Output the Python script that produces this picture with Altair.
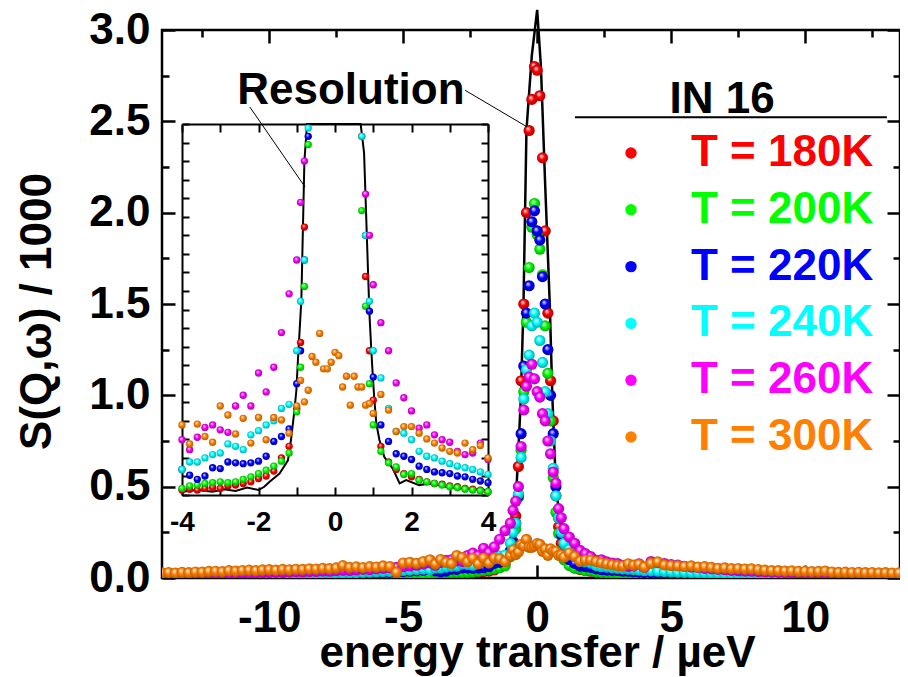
import altair as alt
import pandas as pd

FONT = "Liberation Sans"

# ---------------- energy grid (µeV) ----------------
X_LEFT_WING = [-14.0, -13.75, -13.5, -13.25, -13.0, -12.75, -12.5, -12.25, -12.0, -11.75,
               -11.5, -11.25, -11.0, -10.75, -10.5, -10.25, -10.0, -9.75, -9.5, -9.25,
               -9.0, -8.75, -8.5, -8.25, -8.0, -7.75, -7.5, -7.25, -7.0, -6.75,
               -6.5, -6.25, -6.0, -5.75, -5.5, -5.25, -5.0, -4.75, -4.5, -4.25]
X_INNER = [-4.0, -3.8, -3.6, -3.4, -3.2, -3.0, -2.8, -2.6, -2.4, -2.2, -2.0, -1.8, -1.6, -1.4, -1.2,
           -1.0, -0.9, -0.8, -0.7, -0.6, -0.5, -0.4, -0.3, -0.2, -0.1, 0.0, 0.1, 0.2, 0.3, 0.4, 0.5,
           0.6, 0.7, 0.8, 0.9, 1.0,
           1.2, 1.4, 1.6, 1.8, 2.0, 2.2, 2.4, 2.6, 2.8, 3.0, 3.2, 3.4, 3.6, 3.8, 4.0]
X_RIGHT_WING = [4.25, 4.5, 4.75, 5.0, 5.25, 5.5, 5.75, 6.0, 6.25, 6.5,
                6.75, 7.0, 7.25, 7.5, 7.75, 8.0, 8.25, 8.5, 8.75, 9.0,
                9.25, 9.5, 9.75, 10.0, 10.25, 10.5, 10.75, 11.0, 11.25, 11.5,
                11.75, 12.0, 12.25, 12.5, 12.75, 13.0, 13.25, 13.5, 13.75]

# ---------------- S(Q,w)/1000 per temperature ----------------
S180_LEFT = [0.005, 0.006, 0.006, 0.005, 0.006, 0.006, 0.007, 0.006, 0.007, 0.007,
             0.007, 0.008, 0.008, 0.008, 0.008, 0.009, 0.009, 0.009, 0.010, 0.010,
             0.010, 0.010, 0.011, 0.011, 0.012, 0.012, 0.012, 0.013, 0.013, 0.014,
             0.014, 0.015, 0.015, 0.016, 0.016, 0.017, 0.018, 0.018, 0.019, 0.020]
S180_INNER = [0.021, 0.022, 0.021, 0.023, 0.024, 0.023, 0.026, 0.027, 0.029, 0.031, 0.035, 0.038, 0.044, 0.060, 0.074,
              0.12, 0.20, 0.34, 0.61, 1.08, 1.50, 2.00, 2.45, 2.62, 2.80, 2.78, 2.64, 2.30, 1.90, 1.45, 1.08,
              0.86, 0.45, 0.28, 0.19, 0.13,
              0.074, 0.055, 0.046, 0.041, 0.037, 0.034, 0.031, 0.029, 0.028, 0.026, 0.025, 0.023, 0.022, 0.021, 0.019]
S180_RIGHT = [0.019, 0.018, 0.017, 0.017, 0.016, 0.016, 0.015, 0.015, 0.014, 0.014,
              0.013, 0.013, 0.012, 0.012, 0.012, 0.011, 0.011, 0.011, 0.010, 0.010,
              0.010, 0.009, 0.009, 0.009, 0.009, 0.008, 0.008, 0.008, 0.008, 0.007,
              0.007, 0.007, 0.007, 0.007, 0.006, 0.006, 0.006, 0.006, 0.006]

S200_LEFT = [0.006, 0.006, 0.007, 0.006, 0.007, 0.007, 0.007, 0.008, 0.007, 0.008,
             0.008, 0.008, 0.009, 0.008, 0.009, 0.009, 0.010, 0.009, 0.010, 0.010,
             0.011, 0.011, 0.011, 0.012, 0.012, 0.013, 0.013, 0.014, 0.014, 0.015,
             0.015, 0.016, 0.016, 0.017, 0.018, 0.018, 0.019, 0.020, 0.020, 0.021]
S200_INNER = [0.023, 0.026, 0.027, 0.029, 0.030, 0.031, 0.030, 0.031, 0.034, 0.037, 0.041, 0.045, 0.050, 0.056, 0.066,
              0.116, 0.170, 0.268, 0.44, 0.70, 1.02, 1.40, 1.70, 1.92, 2.05, 1.88, 1.80, 1.66, 1.38, 1.12, 0.86,
              0.55, 0.36, 0.244, 0.15, 0.100,
              0.068, 0.054, 0.049, 0.040, 0.041, 0.033, 0.031, 0.029, 0.027, 0.025, 0.024, 0.022, 0.021, 0.020, 0.019]
S200_RIGHT = [0.019, 0.018, 0.018, 0.017, 0.017, 0.016, 0.016, 0.015, 0.015, 0.014,
              0.014, 0.013, 0.013, 0.012, 0.012, 0.012, 0.011, 0.011, 0.011, 0.010,
              0.010, 0.010, 0.009, 0.009, 0.009, 0.009, 0.008, 0.008, 0.008, 0.008,
              0.008, 0.007, 0.007, 0.007, 0.007, 0.007, 0.006, 0.006, 0.006]

S220_LEFT = [0.009, 0.009, 0.010, 0.009, 0.010, 0.010, 0.011, 0.010, 0.011, 0.011,
             0.012, 0.012, 0.012, 0.013, 0.013, 0.014, 0.014, 0.015, 0.015, 0.016,
             0.016, 0.017, 0.018, 0.018, 0.019, 0.020, 0.021, 0.022, 0.023, 0.024,
             0.025, 0.026, 0.028, 0.029, 0.031, 0.033, 0.035, 0.037, 0.039, 0.042]
S220_INNER = [0.046, 0.039, 0.034, 0.038, 0.048, 0.047, 0.055, 0.054, 0.053, 0.054, 0.056, 0.062, 0.080, 0.086, 0.095,
              0.150, 0.190, 0.30, 0.45, 0.79, 1.16, 1.45, 1.60, 1.95, 2.01, 1.90, 1.85, 1.65, 1.50, 1.25, 1.00,
              0.79, 0.50, 0.33, 0.238, 0.158,
              0.100, 0.080, 0.065, 0.062, 0.058, 0.050, 0.046, 0.043, 0.042, 0.041, 0.038, 0.037, 0.034, 0.032, 0.030]
S220_RIGHT = [0.029, 0.028, 0.027, 0.025, 0.024, 0.023, 0.022, 0.021, 0.020, 0.019,
              0.018, 0.017, 0.017, 0.016, 0.015, 0.015, 0.014, 0.014, 0.013, 0.013,
              0.012, 0.012, 0.012, 0.011, 0.011, 0.011, 0.010, 0.010, 0.010, 0.010,
              0.009, 0.009, 0.009, 0.009, 0.009, 0.008, 0.008, 0.008, 0.008]

S240_LEFT = [0.011, 0.012, 0.011, 0.012, 0.013, 0.012, 0.013, 0.014, 0.013, 0.014,
             0.015, 0.014, 0.015, 0.016, 0.016, 0.017, 0.017, 0.018, 0.019, 0.018,
             0.020, 0.021, 0.021, 0.022, 0.023, 0.024, 0.025, 0.026, 0.027, 0.028,
             0.030, 0.031, 0.033, 0.035, 0.036, 0.038, 0.041, 0.043, 0.046, 0.049]
S240_INNER = [0.046, 0.055, 0.055, 0.060, 0.064, 0.066, 0.077, 0.074, 0.070, 0.088, 0.093, 0.100, 0.105, 0.120, 0.125,
              0.19, 0.25, 0.30, 0.46, 0.66, 0.98, 1.14, 1.22, 1.38, 1.45, 1.40, 1.30, 1.18, 1.02, 0.90, 0.75,
              0.60, 0.45, 0.33, 0.25, 0.19,
              0.157, 0.120, 0.092, 0.090, 0.082, 0.068, 0.062, 0.060, 0.056, 0.053, 0.050, 0.048, 0.046, 0.043, 0.040]
S240_RIGHT = [0.039, 0.037, 0.035, 0.033, 0.031, 0.030, 0.028, 0.027, 0.026, 0.024,
              0.023, 0.022, 0.021, 0.020, 0.020, 0.019, 0.018, 0.017, 0.017, 0.016,
              0.016, 0.015, 0.015, 0.014, 0.014, 0.014, 0.013, 0.013, 0.013, 0.012,
              0.012, 0.012, 0.012, 0.011, 0.011, 0.011, 0.011, 0.010, 0.010]

S260_LEFT = [0.018, 0.019, 0.020, 0.019, 0.021, 0.022, 0.021, 0.023, 0.024, 0.023,
             0.025, 0.026, 0.027, 0.026, 0.028, 0.029, 0.030, 0.031, 0.030, 0.032,
             0.034, 0.033, 0.035, 0.036, 0.038, 0.037, 0.040, 0.042, 0.041, 0.044,
             0.047, 0.046, 0.050, 0.053, 0.055, 0.058, 0.062, 0.066, 0.070, 0.076]
S260_INNER = [0.082, 0.070, 0.085, 0.097, 0.100, 0.094, 0.091, 0.123, 0.136, 0.123, 0.163, 0.140, 0.170, 0.212, 0.259,
              0.30, 0.37, 0.42, 0.50, 0.72, 0.92, 1.05, 1.10, 1.17, 1.09, 1.02, 0.99, 0.90, 0.86, 0.75, 0.68,
              0.58, 0.52, 0.38, 0.33, 0.27,
              0.224, 0.190, 0.151, 0.133, 0.117, 0.096, 0.100, 0.088, 0.082, 0.079, 0.068, 0.064, 0.066, 0.078, 0.058]
S260_RIGHT = [0.090, 0.084, 0.079, 0.073, 0.070, 0.064, 0.060, 0.057, 0.053, 0.050,
              0.047, 0.045, 0.042, 0.040, 0.038, 0.037, 0.035, 0.033, 0.032, 0.031,
              0.029, 0.028, 0.027, 0.026, 0.025, 0.025, 0.024, 0.023, 0.022, 0.022,
              0.021, 0.020, 0.020, 0.019, 0.019, 0.018, 0.018, 0.017, 0.017]

S300_LEFT = [0.028, 0.030, 0.027, 0.031, 0.029, 0.033, 0.032, 0.036, 0.037, 0.035,
             0.040, 0.038, 0.041, 0.043, 0.040, 0.044, 0.046, 0.043, 0.047, 0.045,
             0.048, 0.047, 0.050, 0.049, 0.053, 0.051, 0.055, 0.068, 0.058, 0.061,
             0.057, 0.062, 0.060, 0.066, 0.063, 0.031, 0.082, 0.086, 0.080, 0.090]
S300_INNER = [0.100, 0.077, 0.101, 0.086, 0.079, 0.123, 0.112, 0.089, 0.108, 0.078, 0.109, 0.082, 0.109, 0.106, 0.090,
              0.123, 0.154, 0.128, 0.142, 0.183, 0.176, 0.211, 0.168, 0.168, 0.176, 0.188, 0.184, 0.146, 0.159, 0.124, 0.159,
              0.146, 0.146, 0.124, 0.126, 0.114,
              0.137, 0.118, 0.092, 0.098, 0.098, 0.090, 0.083, 0.078, 0.072, 0.068, 0.066, 0.078, 0.070, 0.075, 0.060]
S300_RIGHT = [0.080, 0.088, 0.071, 0.068, 0.066, 0.063, 0.066, 0.060, 0.062, 0.058,
              0.053, 0.055, 0.051, 0.052, 0.049, 0.050, 0.046, 0.043, 0.041, 0.040,
              0.038, 0.039, 0.036, 0.037, 0.035, 0.036, 0.038, 0.033, 0.031, 0.032,
              0.030, 0.031, 0.029, 0.030, 0.028, 0.029, 0.027, 0.028, 0.027]

# ---------------- instrument resolution ----------------
RES_X = [-14.0, -11.0, -8.0, -6.0, -4.0, -3.6, -3.2, -2.9, -2.6, -2.3, -2.0, -1.85, -1.71, -1.45,
         -1.23, -1.15, -1.06, -1.01, -0.97, -0.88, -0.80, -0.73, -0.61, -0.51, -0.40, -0.20, 0.0,
         0.14, 0.30, 0.47, 0.57, 0.67, 0.76, 0.90, 0.95, 0.99, 1.03, 1.08, 1.16, 1.29, 1.51, 1.69,
         1.86, 2.2, 2.47, 2.9, 3.3, 3.95, 6.0, 8.0, 11.0, 13.5]
RES_Y = [0.006, 0.007, 0.009, 0.012, 0.019, 0.021, 0.019, 0.022, 0.020, 0.024, 0.021, 0.025, 0.031, 0.041,
         0.057, 0.082, 0.118, 0.142, 0.178, 0.251, 0.42, 0.61, 0.98, 1.50, 2.45, 2.86, 3.11,
         2.80, 2.15, 1.50, 0.98, 0.61, 0.43, 0.235, 0.19, 0.158, 0.130, 0.102, 0.082, 0.061, 0.047, 0.029,
         0.033, 0.027, 0.029, 0.025, 0.023, 0.021, 0.012, 0.009, 0.007, 0.006]

TEMPS = ["T = 180K", "T = 200K", "T = 220K", "T = 240K", "T = 260K", "T = 300K"]
COLORS = ["#ff0000", "#00ff00", "#0000ff", "#00ffff", "#ff00ff", "#ff8000"]
SHADES = ["#a00000", "#00a000", "#0000a0", "#00a0a0", "#a000a0", "#b05800"]

# axis tick positions
X_MAJOR = [-10, -5, 0, 5, 10]
X_MINOR = [-12.5, -7.5, -2.5, 2.5, 7.5, 12.5]
Y_MAJOR = [0.0, 0.5, 1.0, 1.5, 2.0, 2.5, 3.0]
Y_MINOR = [0.25, 0.75, 1.25, 1.75, 2.25, 2.75]
INSET_X_TICKS = [-4, -3, -2, -1, 0, 1, 2, 3, 4]
INSET_Y_TICKS = [round(0.015 + 0.0225 * i, 4) for i in range(21)]

# annotations (data units)
RES_LABEL = {"x": [-6.95], "y": [2.595], "t": ["Resolution"]}
POINTER_MAIN = {"x": [-2.69], "y": [2.67], "x2": [-0.38], "y2": [2.47]}
POINTER_INSET = {"x": [-10.72], "y": [2.578], "x2": [-8.66], "y2": [2.14]}
LEGEND_TITLE = {"x": [6.9], "y": [2.546], "t": ["IN 16"]}
LEGEND_RULE = {"x": [1.41], "x2": [13.05], "y": [2.522]}

SERIES = {
    TEMPS[0]: S180_LEFT + S180_INNER + S180_RIGHT,
    TEMPS[1]: S200_LEFT + S200_INNER + S200_RIGHT,
    TEMPS[2]: S220_LEFT + S220_INNER + S220_RIGHT,
    TEMPS[3]: S240_LEFT + S240_INNER + S240_RIGHT,
    TEMPS[4]: S260_LEFT + S260_INNER + S260_RIGHT,
    TEMPS[5]: S300_LEFT + S300_INNER + S300_RIGHT,
}
ENERGY = X_LEFT_WING + X_INNER + X_RIGHT_WING
for k, v in SERIES.items():
    assert len(v) == len(ENERGY), (k, len(v), len(ENERGY))
assert len(RES_X) == len(RES_Y), (len(RES_X), len(RES_Y))

# ---------------- geometry ----------------
W, H = 738, 548
x_main = alt.Scale(domain=[-14.0, 13.54], nice=False, zero=False)
y_main = alt.Scale(domain=[0.0, 3.0], nice=False, zero=False)
x_in = alt.Scale(domain=[-4.0, 4.0], range=[20, 326], nice=False, zero=False)
y_in = alt.Scale(domain=[0.015, 0.465], range=[465, 94], nice=False, zero=False, clamp=True)

HYPHEN = "datum.value < 0 ? '-' + (-datum.value) : '' + datum.value"
LABEL_COLOR_EXPR = "".join(
    "datum.value == '%s' ? '%s' : " % (t, c) for t, c in zip(TEMPS, COLORS)) + "'black'"


def sphere(c, d):
    return alt.RadialGradient(
        gradient="radial",
        stops=[alt.GradientStop(color="#ffffff", offset=0.0),
               alt.GradientStop(color=c, offset=0.45),
               alt.GradientStop(color=d, offset=1.0)],
        x1=0.38, y1=0.32, r1=0.0, x2=0.5, y2=0.5, r2=0.55)


def tick_axis(orient, offset, values, size, width=2.5, domain=False):
    return alt.Axis(orient=orient, offset=offset, values=values, tickSize=size, tickWidth=width,
                    ticks=True, labels=False, domain=domain, domainWidth=2, domainColor="black",
                    tickColor="black", grid=False, title=None)


def axis_layer(df, xs, ys, xaxis, yaxis):
    return alt.Chart(df).mark_point(opacity=0).encode(
        x=alt.X("E:Q", scale=xs, axis=xaxis),
        y=alt.Y("S:Q", scale=ys, axis=yaxis))


dummy_main = pd.DataFrame({"E": [0.0], "S": [1.0]})
dummy_in = pd.DataFrame({"E": [0.0], "S": [0.2]})

main_layers = []
# labelled axes
main_layers.append(axis_layer(
    dummy_main, x_main, y_main,
    alt.Axis(orient="bottom", values=X_MAJOR, ticks=False, tickSize=0, domain=False, grid=False,
             labelFontSize=44, labelPadding=18, labelExpr=HYPHEN, labelFlush=False, labelOverlap=False,
             title="energy transfer / µeV", titleFontSize=44, titleX=375, titleY=88,
             titleBaseline="alphabetic", titleAlign="center"),
    alt.Axis(orient="left", values=Y_MAJOR, format=".1f", ticks=False, tickSize=0, domain=False, grid=False,
             labelFontSize=44, labelPadding=12, labelOverlap=False,
             title="S(Q,ω) / 1000", titleFontSize=44, titleAngle=270, titleX=-112, titleY=281,
             titleBaseline="alphabetic", titleAlign="center")))
# inward ticks
main_layers.append(axis_layer(dummy_main, x_main, y_main,
                              tick_axis("top", -H, X_MAJOR, 13), tick_axis("right", -W, Y_MAJOR, 13)))
main_layers.append(axis_layer(dummy_main, x_main, y_main,
                              tick_axis("top", -H, X_MINOR, 7), tick_axis("right", -W, Y_MINOR, 7)))
main_layers.append(axis_layer(dummy_main, x_main, y_main,
                              tick_axis("bottom", -H, X_MAJOR, 13), tick_axis("left", -W, Y_MAJOR, 13)))
main_layers.append(axis_layer(dummy_main, x_main, y_main,
                              tick_axis("bottom", -H, X_MINOR, 7), tick_axis("left", -W, Y_MINOR, 7)))

res_df = pd.DataFrame({"E": RES_X, "S": RES_Y})
main_layers.append(alt.Chart(res_df).mark_line(color="black", strokeWidth=2.5).encode(
    x=alt.X("E:Q", scale=x_main, axis=None), y=alt.Y("S:Q", scale=y_main, axis=None)))

for label, c, d in zip(TEMPS, COLORS, SHADES):
    df = pd.DataFrame({"E": ENERGY, "S": SERIES[label]})
    main_layers.append(alt.Chart(df).mark_circle(size=125, opacity=1, clip=True, color=sphere(c, d)).encode(
        x=alt.X("E:Q", scale=x_main, axis=None), y=alt.Y("S:Q", scale=y_main, axis=None)))

# annotations
main_layers.append(alt.Chart(pd.DataFrame(RES_LABEL)).mark_text(
    font=FONT, fontSize=44, fontWeight="bold", align="center", baseline="alphabetic", color="black").encode(
    x=alt.X("x:Q", scale=x_main, axis=None), y=alt.Y("y:Q", scale=y_main, axis=None), text="t:N"))
for ptr in (POINTER_MAIN, POINTER_INSET):
    main_layers.append(alt.Chart(pd.DataFrame(ptr)).mark_rule(color="black", strokeWidth=1).encode(
        x=alt.X("x:Q", scale=x_main, axis=None), x2="x2:Q",
        y=alt.Y("y:Q", scale=y_main, axis=None), y2="y2:Q"))
main_layers.append(alt.Chart(pd.DataFrame(LEGEND_TITLE)).mark_text(
    font=FONT, fontSize=44, fontWeight="bold", align="center", baseline="alphabetic", color="black").encode(
    x=alt.X("x:Q", scale=x_main, axis=None), y=alt.Y("y:Q", scale=y_main, axis=None), text="t:N"))
main_layers.append(alt.Chart(pd.DataFrame(LEGEND_RULE)).mark_rule(color="black", strokeWidth=2).encode(
    x=alt.X("x:Q", scale=x_main, axis=None), x2="x2:Q", y=alt.Y("y:Q", scale=y_main, axis=None)))

# legend carrier
legend_df = pd.DataFrame({"T": TEMPS, "E": [0.0] * 6, "S": [1.0] * 6})
main_layers.append(alt.Chart(legend_df).mark_circle(opacity=0, size=130).encode(
    x=alt.X("E:Q", scale=x_main, axis=None), y=alt.Y("S:Q", scale=y_main, axis=None),
    color=alt.Color("T:N", scale=alt.Scale(domain=TEMPS, range=COLORS),
                    legend=alt.Legend(orient="none", legendX=447, legendY=101, title=None,
                                      symbolType="circle", symbolSize=130, symbolOpacity=1,
                                      symbolStrokeWidth=0, labelFontSize=44, labelFont=FONT,
                                      labelFontWeight="bold", labelOffset=38, rowPadding=12.8,
                                      padding=0, labelLimit=400,
                                      labelColor=alt.ExprRef(LABEL_COLOR_EXPR)))))

# ---------------- inset ----------------
inset_layers = []
inset_layers.append(axis_layer(
    dummy_in, x_in, y_in,
    alt.Axis(orient="bottom", offset=465 - H, values=[-4, -2, 0, 2, 4], ticks=False, tickSize=0,
             domain=False, grid=False, labelFontSize=28, labelPadding=13, labelExpr=HYPHEN,
             labelFlush=False, labelOverlap=False, title=None),
    None))
inset_layers.append(axis_layer(dummy_in, x_in, y_in,
                               tick_axis("top", -465, INSET_X_TICKS, 8, 2, True),
                               tick_axis("right", -(W - 20), INSET_Y_TICKS, 7, 2, True)))
inset_layers.append(axis_layer(dummy_in, x_in, y_in,
                               tick_axis("bottom", 94 - H, INSET_X_TICKS, 8, 2, True),
                               tick_axis("left", -326, INSET_Y_TICKS, 7, 2, True)))
inset_layers.append(alt.Chart(res_df).transform_filter("datum.E >= -4.01 && datum.E <= 4.01").mark_line(
    color="black", strokeWidth=2).encode(
    x=alt.X("E:Q", scale=x_in, axis=None), y=alt.Y("S:Q", scale=y_in, axis=None)))
for label, c, d in zip(TEMPS, COLORS, SHADES):
    df = pd.DataFrame({"E": ENERGY, "S": SERIES[label]})
    inset_layers.append(alt.Chart(df).transform_filter(
        "datum.E >= -4.01 && datum.E <= 4.01 && datum.S <= 0.47").mark_circle(
        size=54, opacity=1, color=sphere(c, d)).encode(
        x=alt.X("E:Q", scale=x_in, axis=None), y=alt.Y("S:Q", scale=y_in, axis=None)))

main = alt.layer(*main_layers).resolve_axis(x="independent", y="independent")
inset = alt.layer(*inset_layers).resolve_axis(x="independent", y="independent")

chart = alt.layer(main, inset).resolve_scale(x="independent", y="independent").properties(
    width=W, height=H,
    autosize=alt.AutoSizeParams(type="none"),
    padding={"left": 154, "top": 22, "right": 0, "bottom": 99},
    background="white",
).configure_view(stroke="black", strokeWidth=2.5).configure_axis(
    labelFont=FONT, titleFont=FONT, labelFontWeight="bold", titleFontWeight="bold",
    labelColor="black", titleColor="black", grid=False)

chart.save("out.html", embed_options={"renderer": "svg", "actions": False})
